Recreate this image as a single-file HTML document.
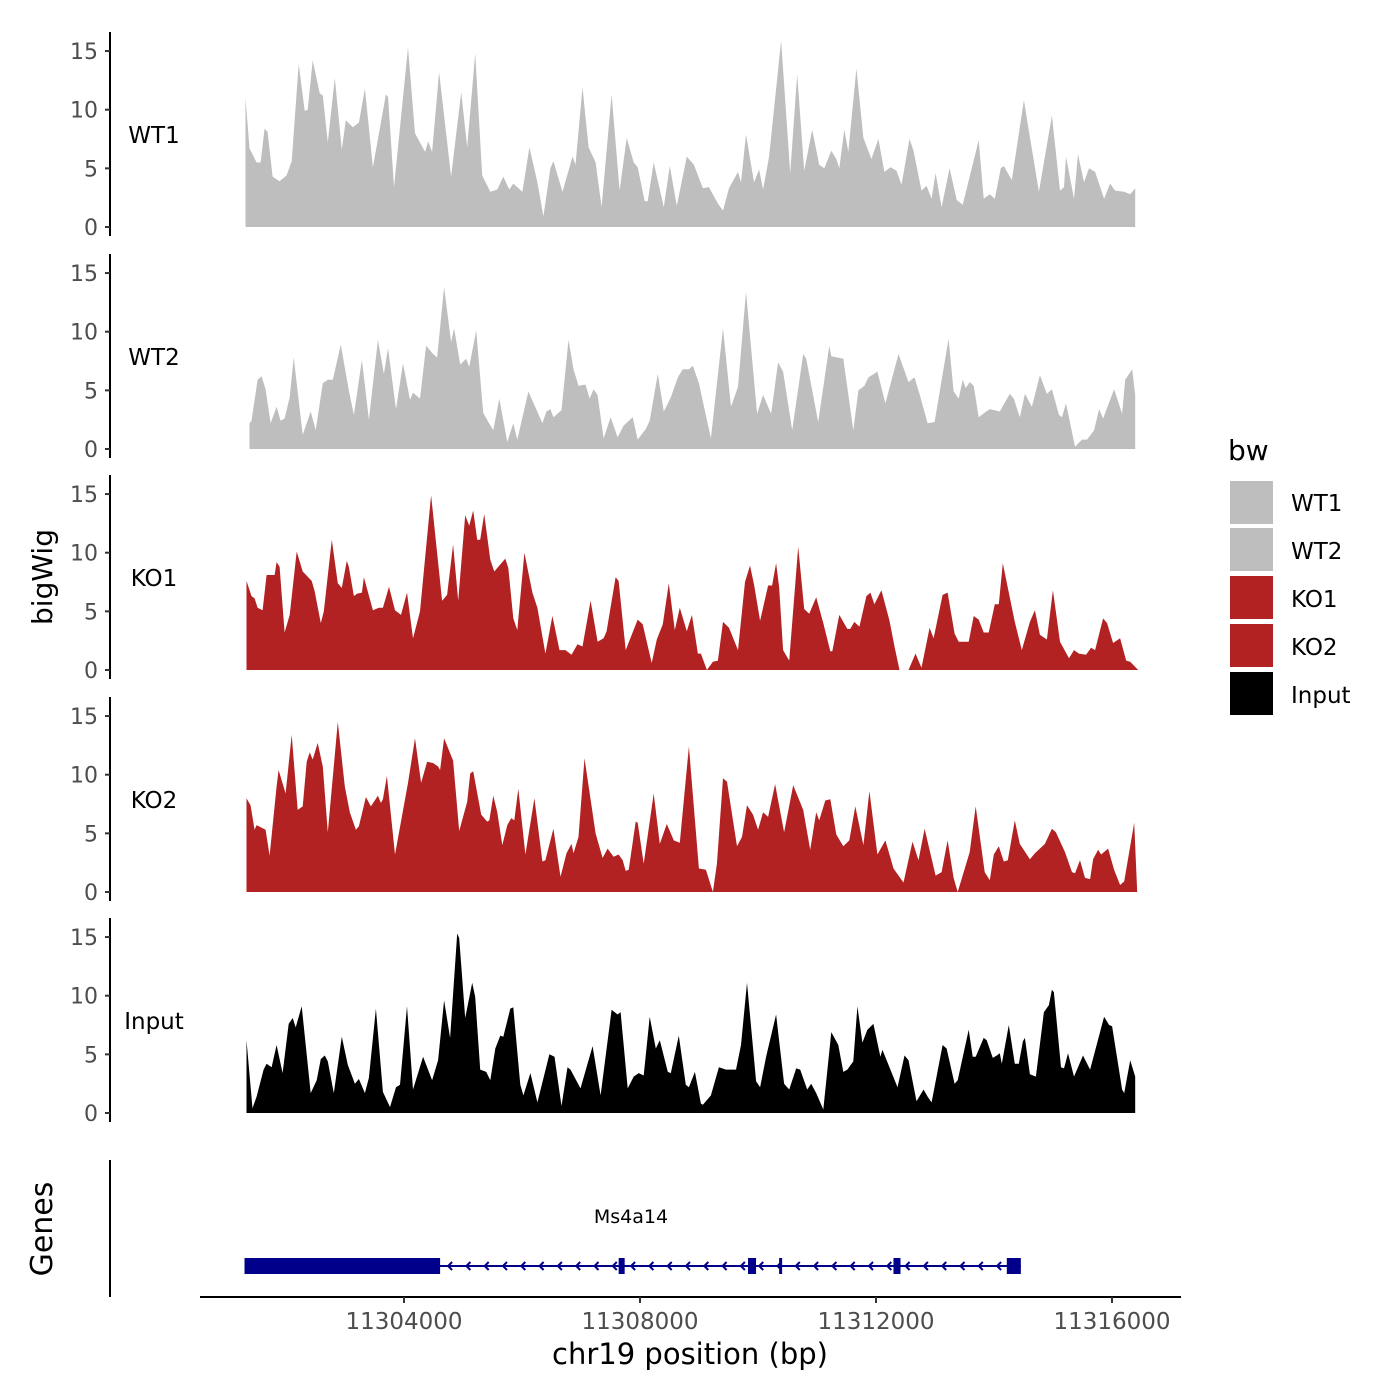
<!DOCTYPE html>
<html><head><meta charset="utf-8">
<style>
body{margin:0;background:#fff;}
svg{display:block;font-family:"DejaVu Sans","Liberation Sans",sans-serif;}
</style></head>
<body>
<svg id="chart" width="1400" height="1400" viewBox="0 0 1400 1400" xmlns="http://www.w3.org/2000/svg">
<rect width="1400" height="1400" fill="#fff"/>
<g id="panels"></g>
<g id="genes"></g>
<g id="xaxis"></g>
<text x="0" y="0" transform="translate(52,577) rotate(-90)" text-anchor="middle" font-size="28" fill="#000">bigWig</text>
<text x="0" y="0" transform="translate(52,1229) rotate(-90)" text-anchor="middle" font-size="30" fill="#000">Genes</text>
<text x="690" y="1364" text-anchor="middle" font-size="29" fill="#000">chr19 position (bp)</text>
<g>
<text x="1228" y="460" font-size="28" fill="#000">bw</text>
<rect x="1230" y="481" width="43" height="43" fill="#BEBEBE"/>
<rect x="1230" y="528" width="43" height="43" fill="#BEBEBE"/>
<rect x="1230" y="576" width="43" height="43" fill="#B22222"/>
<rect x="1230" y="624" width="43" height="43" fill="#B22222"/>
<rect x="1230" y="672" width="43" height="43" fill="#000"/>
<text x="1291" y="511" font-size="23">WT1</text>
<text x="1291" y="559" font-size="23">WT2</text>
<text x="1291" y="607" font-size="23">KO1</text>
<text x="1291" y="655" font-size="23">KO2</text>
<text x="1291" y="703" font-size="23">Input</text>
</g>
</svg>
<script>
// positions: bp offset from regionStart
const regionStart = 11300000;
const trackNames = ["WT1","WT2","KO1","KO2","Input"];
const trackColors = ["#BEBEBE","#BEBEBE","#B22222","#B22222","#000000"];
const yTicks = [0,5,10,15];
const xTicks = [11304000,11308000,11312000,11316000];

const wt1Pos = [1314,1382,1501,1569,1637,1688,1773,1892,2011,2096,2215,2317,2368,2453,2572,2623,2708,2827,2946,3014,3133,3235,3337,3473,3694,3728,3830,4068,4187,4357,4408,4476,4595,4799,4969,5071,5207,5326,5462,5581,5683,5785,5853,6006,6125,6261,6363,6482,6533,6686,6856,6907,7026,7128,7247,7349,7519,7655,7774,7893,7961,8080,8131,8233,8403,8505,8624,8794,8913,9066,9168,9321,9406,9508,9661,9712,9797,9933,10018,10086,10188,10392,10545,10664,10783,10919,11038,11123,11242,11327,11378,11463,11531,11667,11786,11922,12041,12143,12245,12347,12432,12568,12636,12772,12857,12942,13010,13112,13248,13367,13469,13741,13826,13928,14013,14115,14166,14302,14506,14761,14982,15118,15186,15220,15356,15424,15526,15611,15713,15866,15968,16053,16206,16308,16393];
const wt1Val = [11.0,6.7,5.5,5.5,8.4,8.1,4.3,3.9,4.4,5.6,13.9,9.9,10,14.2,11.4,11.2,7.2,12.7,6.6,9.1,8.5,8.9,11.8,5.1,11.3,11.1,3.4,15.3,8.0,6.4,7.3,6.4,13.2,4.3,11.5,6.8,14.8,4.4,3.0,3.2,4.3,3.2,3.7,3.0,6.8,3.8,0.9,5.0,5.6,3.0,6.0,5.3,11.9,6.8,5.5,1.7,11.3,3.1,7.6,5.5,5.1,2.2,2.2,5.5,1.7,5.2,1.8,6.0,5.3,3.3,3.4,2.0,1.4,3.3,4.7,3.8,7.9,3.8,4.9,3.2,6.0,15.9,4.6,13.0,4.8,8.3,5.3,5.0,6.5,5.8,5.0,8.3,6.4,13.5,7.6,5.8,7.5,4.7,5.1,4.8,3.6,7.5,6.5,3.1,3.5,2.4,4.6,1.7,5.0,2.3,1.9,7.4,2.4,2.8,2.4,5.0,5.2,4.0,10.8,3.0,9.5,3.1,3.4,6.0,2.4,6.2,3.8,5.0,4.7,2.4,3.7,3.1,3.0,2.8,3.3];

const wt2Pos = [1382,1416,1518,1586,1654,1739,1841,1909,1977,2062,2130,2283,2419,2504,2623,2708,2793,2929,3065,3150,3286,3405,3558,3660,3728,3864,3983,4102,4153,4272,4374,4493,4561,4680,4799,4850,4952,5054,5105,5224,5343,5428,5513,5615,5751,5853,5921,6108,6346,6414,6482,6533,6669,6788,6873,6958,7077,7145,7213,7281,7383,7502,7621,7723,7876,7961,8097,8165,8301,8403,8522,8641,8726,8828,8896,8998,9202,9406,9542,9661,9797,9984,10086,10222,10341,10426,10579,10766,10817,11021,11208,11242,11446,11616,11701,11803,11871,12024,12160,12381,12551,12653,12738,12874,12993,13231,13316,13401,13469,13520,13588,13656,13741,13843,13928,14098,14268,14336,14438,14523,14642,14778,14897,14982,15101,15152,15220,15373,15492,15577,15696,15781,15849,16036,16172,16223,16342,16393];
const wt2Val = [2.2,2.4,5.9,6.2,5.1,2.2,3.6,2.4,2.6,4.4,7.8,1.2,3.2,1.6,5.6,5.9,5.9,8.9,5.0,2.9,7.6,2.5,9.3,6.4,8.6,3.4,7.3,4.2,4.8,4.3,8.8,8.1,7.8,13.8,9.1,10.3,7.2,7.7,7.0,10.1,3.1,2.3,1.6,4.3,0.6,2.2,0.8,4.9,2.2,3.2,3.4,2.7,3.3,9.3,6.8,5.4,5.5,4.3,5.1,4.6,0.9,2.7,1.0,2.0,2.7,0.8,1.7,2.4,6.4,3.2,4.4,6.1,6.8,6.8,7.1,5.6,0.9,10.3,3.6,5.3,13.4,3.0,4.6,3.0,7.4,6.6,1.6,8.1,7.7,2.3,8.8,7.9,7.7,1.6,5.0,5.4,6.1,6.6,3.9,8.1,5.7,6.1,4.7,2.2,2.3,9.4,4.9,4.3,5.9,5.2,5.7,5.4,2.7,3.1,3.4,3.2,4.7,4.3,2.7,4.7,3.6,6.3,4.7,5.1,2.9,2.7,3.9,0.2,0.8,0.8,1.6,3.4,2.6,5.1,3.0,5.9,6.8,4.6];

const ko1Pos = [1331,1416,1467,1518,1603,1671,1807,1841,1892,1977,2062,2181,2283,2436,2487,2589,2640,2776,2878,2946,3031,3065,3150,3201,3286,3320,3473,3575,3643,3745,3847,3949,4051,4153,4272,4459,4646,4731,4833,4918,5037,5105,5173,5241,5292,5360,5462,5530,5598,5717,5768,5853,5921,6040,6176,6261,6397,6516,6635,6737,6839,6941,7026,7162,7281,7383,7434,7587,7638,7757,7961,8046,8199,8284,8386,8488,8590,8675,8794,8879,8981,9032,9134,9236,9321,9406,9508,9661,9780,9865,9933,10035,10171,10239,10307,10358,10426,10528,10681,10783,10868,10987,11106,11225,11259,11378,11514,11565,11633,11718,11837,11905,11973,12092,12228,12313,12398,12551,12670,12772,12908,12976,13129,13214,13333,13401,13571,13656,13741,13826,13911,14013,14081,14149,14353,14472,14608,14693,14778,14897,14999,15118,15271,15356,15441,15560,15645,15713,15849,15917,16019,16138,16240,16308,16444];
const ko1Val = [7.6,6.3,6.1,5.3,5.1,8.1,8.1,9.2,8.8,3.2,4.7,10.1,8.4,7.6,6.7,4.0,5.0,11.1,7.4,7.0,9.3,8.8,6.3,6.5,6.6,7.9,5.1,5.3,5.3,7.1,5.1,4.7,6.6,2.7,5.0,14.9,5.9,6.4,10.7,5.9,13.2,12.3,13.6,11.1,11.1,13.3,9.4,8.4,8.8,9.5,8.7,4.4,3.4,10.0,6.6,5.3,1.4,4.6,1.7,1.7,1.3,2.2,2.0,5.9,2.4,2.7,3.3,7.9,7.6,1.7,4.3,3.9,0.6,2.6,3.9,7.4,3.4,5.3,3.3,4.7,1.4,1.4,0,0.7,0.8,4.1,3.6,1.7,7.5,8.9,7.3,4.2,7.2,7.2,9.1,7.1,1.7,0.8,10.5,5.2,4.8,6.2,4.0,1.6,1.6,4.7,3.5,3.5,4.1,3.7,6.3,6.6,5.6,6.8,4.2,2.0,0,0,1.4,0.2,3.6,2.7,6.4,6.6,3.1,2.4,2.4,4.6,4.3,3.2,3.2,5.6,5.6,9.1,4.1,1.7,4.1,5.1,3.0,2.6,6.8,2.4,1.0,1.7,1.4,1.3,1.9,1.7,4.4,4.0,2.3,2.7,0.8,0.7,0];

const ko2Pos = [1331,1399,1467,1501,1654,1722,1841,1875,1994,2096,2198,2283,2351,2402,2453,2538,2623,2708,2878,2997,3082,3184,3235,3354,3439,3558,3609,3643,3711,3847,4068,4187,4289,4391,4493,4578,4612,4680,4833,4935,5071,5122,5173,5309,5411,5445,5513,5581,5666,5751,5819,5870,5938,6057,6210,6346,6397,6533,6652,6754,6839,6873,6958,7060,7247,7366,7451,7553,7638,7706,7757,7808,7927,7961,8063,8233,8335,8454,8573,8675,8828,8998,9117,9236,9304,9406,9474,9644,9729,9814,9916,10001,10086,10171,10290,10443,10596,10766,10885,10987,11038,11140,11225,11327,11446,11548,11650,11786,11888,12024,12160,12296,12466,12619,12721,12823,13010,13112,13214,13316,13384,13588,13690,13843,13928,13996,14081,14166,14234,14353,14438,14608,14693,14863,14982,15050,15203,15322,15373,15458,15543,15628,15679,15764,15815,15934,16036,16138,16206,16376,16427];
const ko2Val = [8.0,7.4,5.3,5.7,5.3,3.1,9.0,10.4,8.4,13.4,7.0,7.3,11.1,11.9,11.3,12.7,10.7,5.1,14.5,9.0,6.8,5.3,5.6,8.1,7.3,8.2,7.6,7.9,9.9,3.2,9.3,13.1,9.3,11.1,11.0,10.7,10.4,13.1,11.2,5.2,7.7,10.1,10.3,6.6,6.0,6.1,8.2,6.8,4.0,5.7,6.3,6.1,8.8,3.2,8.0,2.6,2.7,5.4,1.3,3.3,4.1,3.3,4.7,11.4,5.0,2.9,3.7,3.0,3.2,2.7,1.8,1.9,6.0,5.9,2.4,8.4,4.1,5.8,4.4,4.2,12.4,2.0,1.9,0,2.4,9.7,9.4,3.9,4.7,7.4,6.6,5.3,6.8,6.4,9.2,5.1,9.1,7.0,3.6,6.8,6.1,7.8,7.9,4.9,3.9,4.4,7.3,4.0,8.6,3.2,4.4,2.0,0.8,4.3,2.7,5.4,1.4,1.7,4.4,1.2,0,3.4,7.3,1.7,1.0,3.2,3.9,2.6,2.7,6.1,4.1,2.8,3.3,4.1,5.4,5.1,3.4,1.7,1.6,2.7,1.2,1.1,2.8,3.6,3.2,3.7,1.9,0.6,0.9,5.9,0];

const inputPos = [1331,1433,1501,1620,1671,1756,1841,1943,2045,2113,2164,2266,2419,2521,2589,2657,2708,2810,2946,3048,3167,3235,3337,3405,3524,3643,3762,3864,3932,4051,4153,4323,4476,4578,4680,4782,4901,4935,5037,5156,5207,5292,5394,5462,5547,5632,5683,5802,5853,5972,6023,6142,6261,6465,6550,6669,6771,6822,6992,7196,7332,7519,7621,7672,7791,7893,7978,8063,8165,8267,8335,8471,8522,8658,8777,8828,8930,9032,9066,9202,9338,9457,9627,9712,9814,9967,10035,10137,10307,10443,10528,10647,10715,10834,10902,10987,11106,11242,11361,11446,11514,11616,11684,11769,11854,11956,12075,12109,12364,12483,12551,12687,12806,12874,12942,13129,13197,13333,13384,13571,13639,13690,13826,13877,13979,14047,14098,14132,14251,14353,14421,14489,14523,14608,14710,14846,14931,14982,15016,15135,15186,15254,15356,15509,15628,15866,15951,16002,16172,16206,16308,16393];
const inputVal = [6.2,0.4,1.4,3.7,4.2,3.9,5.8,3.4,7.6,8.1,7.3,9.1,1.7,2.8,4.6,4.9,4.4,1.7,6.5,4.1,2.5,2.9,1.7,3.0,8.9,1.8,0.5,2.2,2.4,9.1,2.0,4.8,2.8,4.5,9.6,6.4,15.3,14.9,8.1,11.1,9.9,3.7,3.5,2.8,5.5,6.6,6.5,8.9,9.0,2.4,1.5,3.4,0.9,5.0,4.8,0.6,3.9,3.7,2.1,5.7,1.5,8.8,8.4,8.6,2.1,3.1,3.4,3.2,8.2,5.5,6.2,3.5,3.4,6.6,2.4,2.2,3.5,0.8,0.7,1.5,3.9,3.7,3.7,5.8,11.1,2.7,2.2,4.8,8.4,2.5,2.0,3.8,3.7,2.0,2.5,1.7,0.3,6.9,5.8,3.5,3.7,4.4,9.1,6.0,7.1,7.6,4.8,5.4,2.2,4.9,4.5,1.0,2.0,1.4,0.9,5.8,5.5,2.5,2.8,7.1,4.8,4.8,6.4,6.2,4.7,4.9,5.1,4.2,7.5,4.2,4.2,6.1,6.4,3.3,3.1,8.6,9.2,10.5,10.3,3.9,3.8,5.1,3.1,4.9,3.7,8.2,7.5,7.4,2.0,1.7,4.5,3.1];

const geneName = "Ms4a14";
const geneStart = 11301297;
const geneEnd = 11314455;
const utrEnd = 11304612;
const exonStarts = [11307638,11309831,11310358,11312296,11314217];
const exonEnds = [11307740,11309967,11310409,11312415,11314455];

const NS = "http://www.w3.org/2000/svg";
function xs(bp){ return 404 + (bp - 11304000) * 0.059; }
const panelZero = [227,449,670,892,1113];
const unitPx = 11.73;
function ys(i, v){ return panelZero[i] - v * unitPx; }
function mk(tag, attrs, parent){
  const e = document.createElementNS(NS, tag);
  for (const k in attrs) e.setAttribute(k, attrs[k]);
  parent.appendChild(e);
  return e;
}
const posSets = [wt1Pos, wt2Pos, ko1Pos, ko2Pos, inputPos];
const valSets = [wt1Val, wt2Val, ko1Val, ko2Val, inputVal];
const panels = document.getElementById("panels");
for (let i = 0; i < 5; i++){
  const g = mk("g", {}, panels);
  
  
  const P = posSets[i], V = valSets[i];
  const n = Math.min(P.length, V.length);
  let d = "M" + xs(regionStart + P[0]).toFixed(1) + "," + ys(i,0);
  for (let j = 0; j < n; j++) d += "L" + xs(regionStart + P[j]).toFixed(1) + "," + ys(i, V[j]).toFixed(1);
  d += "L" + xs(regionStart + P[n-1]).toFixed(1) + "," + ys(i,0) + "Z";
  const area = mk("path", {d: d, fill: trackColors[i]}, g);
  
  
  const ax = mk("line", {x1:110, x2:110, y1: panelZero[i]-195, y2: panelZero[i]+9, stroke:"#000", "stroke-width":2}, g);
  
  
  for (const t of yTicks){
    const y = ys(i, t);
    const tk = mk("line", {x1:105, x2:110, y1:y, y2:y, stroke:"#333", "stroke-width":2}, g);
    
    
    const tl = mk("text", {x:98, y:y+8, "text-anchor":"end", "font-size":22, fill:"#4d4d4d"}, g);
    tl.textContent = t;
    
    
  }
  const lab = mk("text", {x:154, y: panelZero[i]-84, "text-anchor":"middle", "font-size":23, fill:"#000"}, g);
  lab.textContent = trackNames[i];
  
  
}
// genes
const gg = document.getElementById("genes");
const navy = "#00008B";
const ga = mk("line", {x1:110, x2:110, y1:1160, y2:1297, stroke:"#000", "stroke-width":2}, gg);


const intr = mk("line", {x1: xs(geneStart), x2: xs(geneEnd), y1:1266, y2:1266, stroke:navy, "stroke-width":2}, gg);


for (let x = xs(utrEnd) + 8; x < xs(geneEnd) - 8; x += 18.3){
  const ar = mk("path", {d: "M"+(x+4)+",1262 L"+x+",1266 L"+(x+4)+",1270", fill:"none", stroke:navy, "stroke-width":2}, gg);
  
  
}
const utr = mk("rect", {x: xs(geneStart), y:1258, width: xs(utrEnd)-xs(geneStart), height:16, fill:navy}, gg);


for (let k = 0; k < exonStarts.length; k++){
  const w = Math.max(3, xs(exonEnds[k]) - xs(exonStarts[k]));
  const ex = mk("rect", {x: xs(exonStarts[k]), y:1258, width: w, height:16, fill:navy}, gg);
  
  
}
const gl = mk("text", {x: 631, y: 1223, "text-anchor":"middle", "font-size":19, fill:"#000"}, gg);
gl.textContent = geneName;


// x axis
const xa = document.getElementById("xaxis");
const xl = mk("line", {x1:200, x2:1181, y1:1297, y2:1297, stroke:"#000", "stroke-width":2}, xa);


for (const t of xTicks){
  const x = xs(t);
  const tk = mk("line", {x1:x, x2:x, y1:1297, y2:1303, stroke:"#333", "stroke-width":2}, xa);
  
  
  const tl = mk("text", {x:x, y:1329, "text-anchor":"middle", "font-size":23, fill:"#4d4d4d"}, xa);
  tl.textContent = t;
  
  
}
</script>
</body></html>
